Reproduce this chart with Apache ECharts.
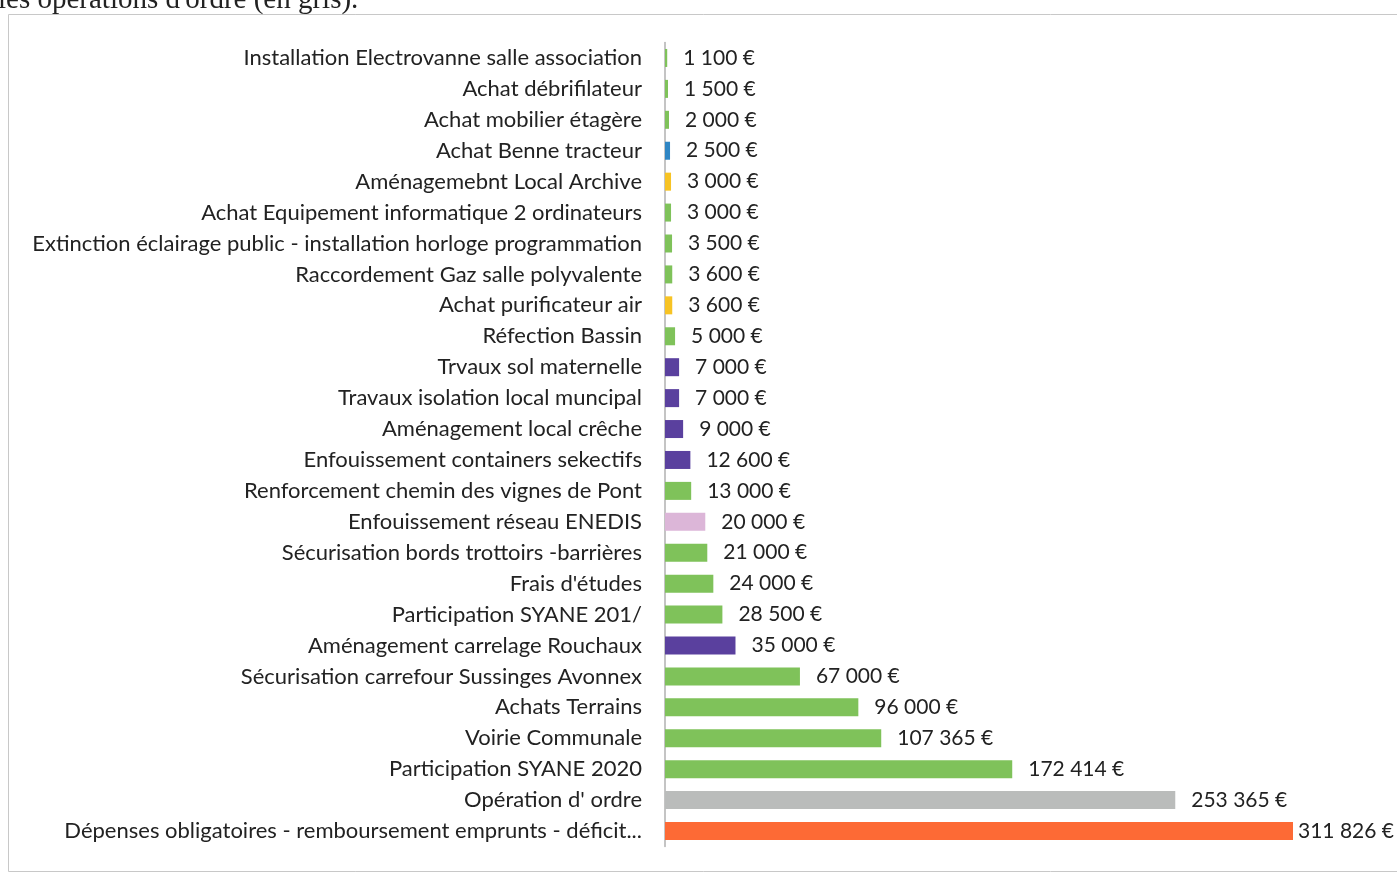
<!DOCTYPE html>
<html><head><meta charset="utf-8">
<script src="https://cdn.jsdelivr.net/npm/echarts@6/dist/echarts.min.js"></script>
<style>html,body{margin:0;padding:0;background:#fff;}#c{width:1397px;height:875px;}</style>
</head><body><div id="c"></div>
<script>
const categories = [
  "Installation Electrovanne salle association",
  "Achat débrifilateur",
  "Achat mobilier étagère",
  "Achat Benne tracteur",
  "Aménagemebnt Local Archive",
  "Achat Equipement informatique 2 ordinateurs",
  "Extinction éclairage public - installation horloge programmation",
  "Raccordement Gaz salle polyvalente",
  "Achat purificateur air",
  "Réfection Bassin",
  "Trvaux sol maternelle",
  "Travaux isolation local muncipal",
  "Aménagement local crêche",
  "Enfouissement containers sekectifs",
  "Renforcement chemin des vignes de Pont",
  "Enfouissement réseau ENEDIS",
  "Sécurisation bords trottoirs -barrières",
  "Frais d'études",
  "Participation SYANE 201/",
  "Aménagement carrelage Rouchaux",
  "Sécurisation carrefour Sussinges Avonnex",
  "Achats Terrains",
  "Voirie Communale",
  "Participation SYANE 2020",
  "Opération d' ordre",
  "Dépenses obligatoires - remboursement emprunts - déficit..."
];
const values = [1100,1500,2000,2500,3000,3000,3500,3600,3600,5000,7000,7000,9000,12600,13000,20000,21000,24000,28500,35000,67000,96000,107365,172414,253365,311826];
const groups = ["g","g","g","b","y","g","g","g","y","g","p","p","p","p","g","k","g","g","g","p","g","g","g","g","s","r"];
const palette = {g:"#7fc25a", b:"#2f86c4", y:"#f7c324", p:"#5a409e", k:"#dcb6d8", s:"#babcbb", r:"#fd6a35"};
const topText = "les opérations d'ordre (en gris).";

function fmt(v){ return String(v).replace(/\B(?=(\d{3})+(?!\d))/g, " ") + " €"; }

const chart = echarts.init(document.getElementById('c'), null, {renderer:'canvas'});
chart.setOption({
  backgroundColor:'#fff',
  animation:false,
  graphic:[
    {type:'rect', shape:{x:8.5,y:14.5,width:1400,height:857}, style:{fill:'none', stroke:'#c8c8c8', lineWidth:1}, z:-1},
    {type:'text', left:-2, top:-14, style:{text:topText, font:'29px "Liberation Serif"', fill:'#222'}}
  ],
  grid:{left:665, top:42.5, width:628, height:804, containLabel:false},
  xAxis:{type:'value', min:0, max:311826, show:false},
  yAxis:{type:'category', inverse:true, data:categories,
    axisLine:{show:true, lineStyle:{color:'#b0b0b0', width:1.5}},
    axisTick:{show:false},
    axisLabel:{margin:23, fontFamily:'Lato', fontSize:22, color:'#222', interval:0}
  },
  series:[{
    type:'bar', barWidth:18,
    data: values.map((v,i)=>({value:v, itemStyle:{color:palette[groups[i]]},
      label: i===values.length-1 ? {distance:5} : undefined})),
    label:{show:true, position:'right', distance:16, fontFamily:'Lato', fontSize:21, color:'#222',
      formatter:p=>fmt(p.value)}
  }]
});
</script></body></html>
